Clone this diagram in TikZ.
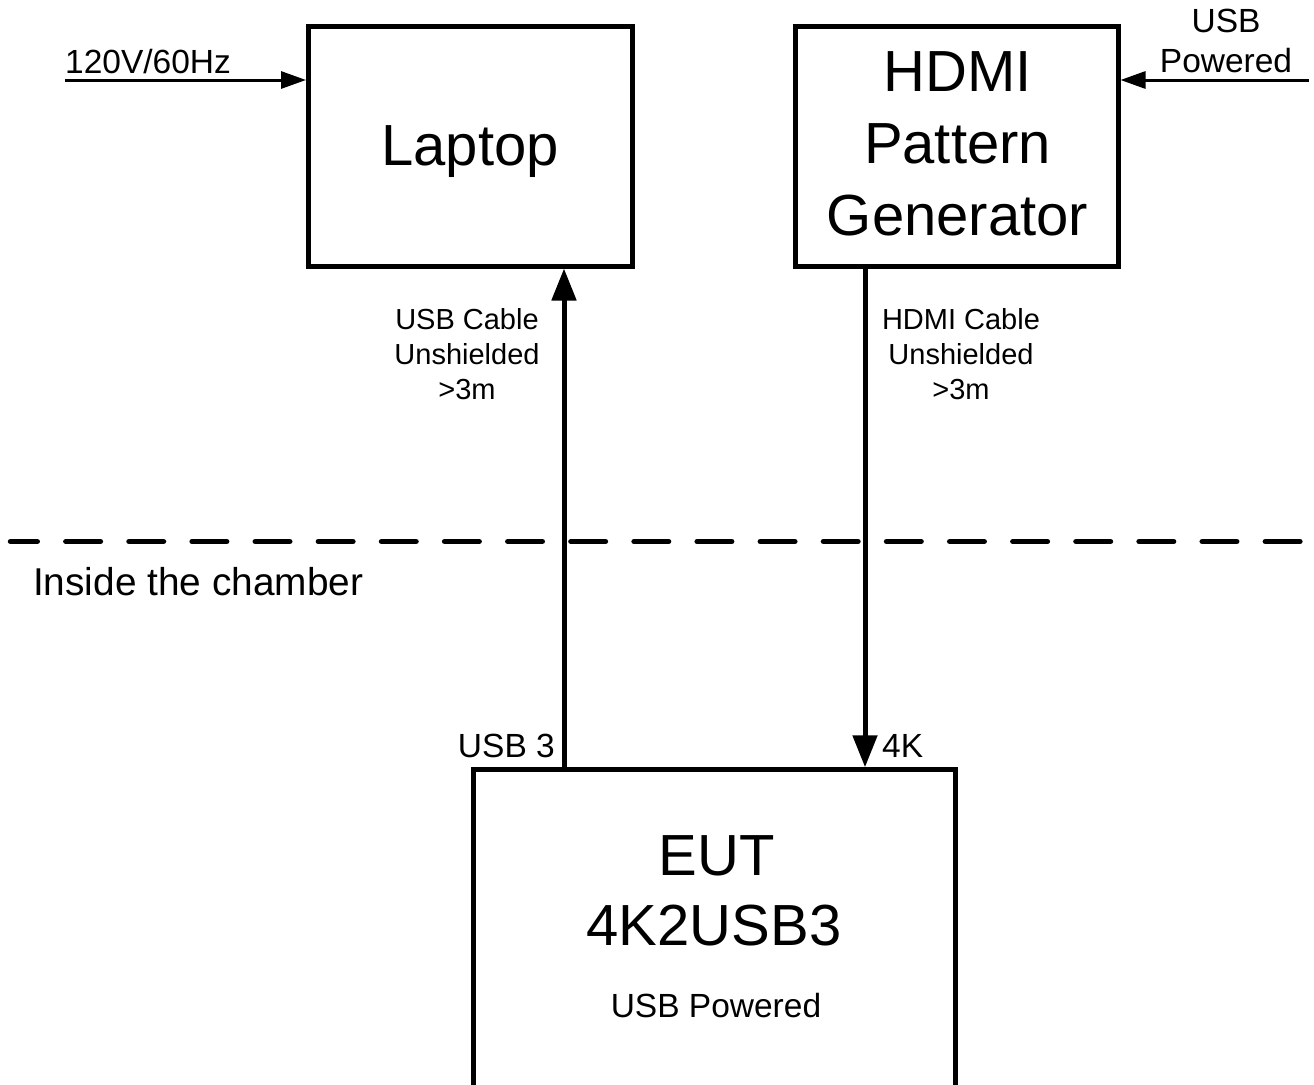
\documentclass[tikz,border=0pt]{standalone}
\usepackage{fontspec}
\setmainfont{Liberation Sans}
\usetikzlibrary{arrows.meta}

\newcommand\boxfont{\fontsize{58}{72}\selectfont}
\newcommand\tagfont{\fontsize{33.5}{40}\selectfont}
\newcommand\cablefont{\fontsize{29}{35}\selectfont}
\newcommand\roomfont{\fontsize{38.8}{44}\selectfont}

\begin{document}
\begin{tikzpicture}[x=1pt, y=-1pt,
  unit/.style={draw, line width=5pt, inner sep=0pt},
  txt/.style={inner sep=0pt},
  cable/.style={line width=5pt, -{Triangle[length=32pt, width=24pt]}},
  feed/.style={line width=3pt, -{Triangle[length=25pt, width=17pt]}}]

  % Fix the frame of the drawing
  \useasboundingbox (0,0) rectangle (1314,1084);
  \clip (0,0) rectangle (1314,1084);

  % Draw the three units (the EUT box runs off the bottom)
  \node[unit, minimum width=323.5pt, minimum height=240pt] (laptop) at (470.25,146) {};
  \node[unit, minimum width=323pt, minimum height=240pt] (hdmi) at (956.5,146) {};
  \node[unit, minimum width=482pt, minimum height=340pt] (eut) at (714.5,939.75) {};

  % Names of the units
  \node[txt, anchor=base, font=\boxfont] (laptoptext) at (470,165) {Laptop};
  \node[txt, anchor=south, align=center, font=\boxfont] (hdmitext) at (957.5,236) {HDMI\\Pattern\\Generator};
  \node[txt, anchor=base, font=\boxfont] (euttext) at (716.5,875) {EUT};
  \node[txt, anchor=base, font=\boxfont] (modeltext) at (714,945) {4K2USB3};
  \node[txt, anchor=base, font=\tagfont] (powertext) at (716,1017) {USB Powered};

  % Cables between the units
  \coordinate (usbx) at (564,0);
  \coordinate (hdmix) at (865,0);
  \draw[cable] (eut.north -| usbx) -- (laptop.south -| usbx);
  \draw[cable] (hdmi.south -| hdmix) -- (eut.north -| hdmix);

  % Notes on the cables
  \node[txt, anchor=south, align=center, font=\cablefont] (usbnote) at (467,400) {USB Cable\\Unshielded\\>3m};
  \node[txt, anchor=south, align=center, font=\cablefont] (hdminote) at (961,400) {HDMI Cable\\Unshielded\\>3m};

  % Port names at the EUT
  \node[txt, anchor=base east, font=\tagfont] (usbport) at (555,757) {USB 3};
  \node[txt, anchor=base west, font=\tagfont] (hdmiport) at (882,757) {4K};

  % Power feeds
  \coordinate (mains) at (65,80);
  \coordinate (usbfeed) at (1309,80);
  \draw[feed] (mains) -- (mains -| laptop.west);
  \draw[feed] (usbfeed) -- (usbfeed -| hdmi.east);
  \node[txt, anchor=base west, font=\tagfont] (mainstext) at (65,73) {120V/60Hz};
  \node[txt, anchor=south, align=center, font=\tagfont] (usbfeedtext) at (1226,73) {USB\\Powered};

  % Chamber wall
  \coordinate (wallL) at (10.5,541.5);
  \coordinate (wallR) at (1320,541.5);
  \draw[line width=5.5pt, line cap=round, dash pattern=on 34.5pt off 28.63pt, dash phase=7.75pt] (wallL) -- (wallR);
  \node[txt, anchor=base west, font=\roomfont] (chamber) at (33,595) {Inside the chamber};

\end{tikzpicture}
\end{document}
